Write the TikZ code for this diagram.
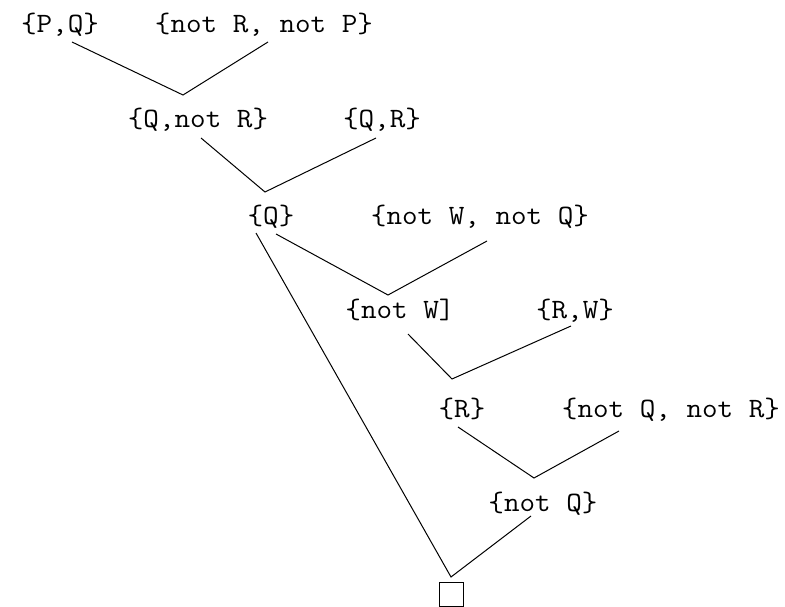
\documentclass[tikz,border=0pt]{standalone}
\usepackage{graphicx}
\usetikzlibrary{calc}
\newcommand\clausetext[1]{\scalebox{1.08}[1]{#1}}
\begin{document}
\begin{tikzpicture}[x=1pt,y=-1pt,
  clause/.style={anchor=base,inner sep=0pt,font=\ttfamily\fontsize{28}{31}\selectfont},
  link/.style={line width=1pt},
  emptybox/.style={draw,line width=1pt,minimum size=24pt,inner sep=0pt}]
\useasboundingbox (0,0) rectangle (785,607);
% clauses
\node[clause] (pq)   at (60,33)  {\clausetext{\{P,Q\}}};
\node[clause] (nrnp) at (264,33) {\clausetext{\{not R, not P\}}};
\node[clause] (qnr)  at (198,128) {\clausetext{\{Q,not R\}}};
\node[clause] (qr)   at (382,128) {\clausetext{\{Q,R\}}};
\node[clause] (q)    at (271,225) {\clausetext{\{Q\}}};
\node[clause] (nwnq) at (480,225) {\clausetext{\{not W, not Q\}}};
\node[clause] (nw)   at (400,318) {\clausetext{\{not W]}};
\node[clause] (rw)   at (575,318) {\clausetext{\{R,W\}}};
\node[clause] (r)    at (462,417) {\clausetext{\{R\}}};
\node[clause] (nqnr) at (671,417) {\clausetext{\{not Q, not R\}}};
\node[clause] (nq)   at (543,511) {\clausetext{\{not Q\}}};
\node[emptybox] (box) at (451,594) {};
% junctions
\coordinate (j1) at (183,95);
\coordinate (j2) at (265,192);
\coordinate (j3) at (388,295);
\coordinate (j4) at (452,379);
\coordinate (j5) at (534,478);
\coordinate (j6) at (451,577);
% connectors
\draw[link] ($(pq.base)+(12,9)$) -- (j1) -- ($(nrnp.base)+(4,9)$);
\draw[link] ($(qnr.base)+(3,10)$) -- (j2) -- ($(qr.base)+(-6,10)$);
\draw[link] ($(q.base)+(5,9)$) -- (j3) -- ($(nwnq.base)+(7,16)$);
\draw[link] ($(nw.base)+(8,16)$) -- (j4) -- ($(rw.base)+(-4,8)$);
\draw[link] ($(r.base)+(-4,10)$) -- (j5) -- ($(nqnr.base)+(-52,14)$);
\draw[link] ($(q.base)+(-15,8)$) -- (j6) -- ($(nq.base)+(-12,5)$);
\end{tikzpicture}
\end{document}
